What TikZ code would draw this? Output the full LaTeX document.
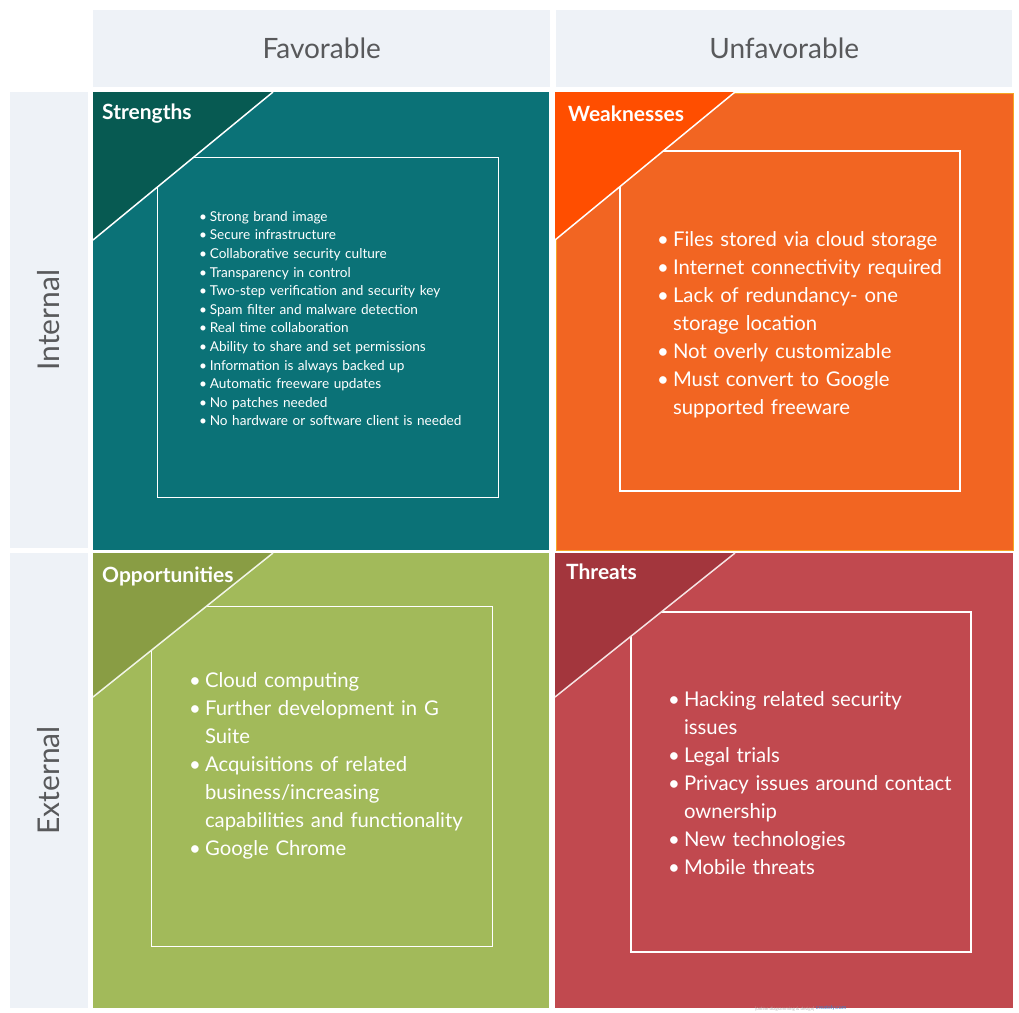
\documentclass[tikz,border=0pt]{standalone}
\usepackage{fontspec}
\setmainfont{Lato}

\definecolor{hdrbg}{HTML}{EEF2F7}
\definecolor{hdrtxt}{HTML}{58595B}
\definecolor{strbg}{HTML}{0B7277}
\definecolor{strtri}{HTML}{075A52}
\definecolor{wkbg}{HTML}{F26522}
\definecolor{wktri}{HTML}{FF4E00}
\definecolor{wkline}{HTML}{F6A623}
\definecolor{oppbg}{HTML}{A2BA5A}
\definecolor{opptri}{HTML}{899D44}
\definecolor{thrbg}{HTML}{C1494F}
\definecolor{thrtri}{HTML}{A3363D}
\definecolor{wmblue}{HTML}{3D7CC9}

\newcommand{\bitem}[1]{\hangindent=0.78em\hangafter=1\noindent\makebox[0.78em][l]{\textbullet}#1\par}

\tikzset{
  hdr/.style={fill=hdrbg, text=hdrtxt, inner sep=0pt, font=\fontsize{28}{28}\selectfont},
  sidehdr/.style={hdr, rotate=90, font=\fontsize{30}{30}\selectfont},
  quad/.style={anchor=north west, inner sep=0pt},
  inbox/.style={draw=white, line width=1pt},
  quadtitle/.style={anchor=west, text=white, inner sep=0pt, font=\bfseries\fontsize{21}{21}\selectfont},
  smalllist/.style={anchor=north west, text=white, inner sep=0pt, align=left, text width=295pt, font=\fontsize{13.6}{18.6}\selectfont},
  biglist/.style={anchor=north west, text=white, inner sep=0pt, align=left, text width=310pt, font=\fontsize{20.3}{28}\selectfont}
}

\begin{document}
\begin{tikzpicture}[x=1pt,y=-1pt]
\useasboundingbox (0,0) rectangle (1019,1012);

\node[hdr, anchor=north west, minimum width=457pt, minimum height=77pt] (fav) at (93,10) {Favorable};
\node[hdr, anchor=north west, minimum width=456pt, minimum height=77pt] (unfav) at (556,10) {Unfavorable};
\node[sidehdr, minimum width=456pt, minimum height=78pt] (int) at (49,320) {Internal};
\node[sidehdr, minimum width=455pt, minimum height=78pt] (ext) at (49,780.5) {External};

\node[quad, fill=strbg, minimum width=456pt, minimum height=458pt] (str) at (93,92) {};
\node[quad, fill=wkbg, draw=wkline, line width=1.2pt, minimum width=457pt, minimum height=457pt] (wk) at (555.5,92.5) {};
\node[quad, fill=oppbg, minimum width=456pt, minimum height=455pt] (opp) at (93,553) {};
\node[quad, fill=thrbg, minimum width=458pt, minimum height=455pt] (thr) at (555,553) {};

% inner boxes
\draw[inbox] (157,157) rectangle (498,497);
\draw[inbox, line width=1.8pt] (620,151) rectangle (960,491);
\draw[inbox] (151,606) rectangle (492,946);
\draw[inbox, line width=1.2pt] (631,612) rectangle (971,952);

% corner triangles
\fill[strtri] (93,92) -- (273,92) -- (93,240) -- cycle;
\draw[white, line width=1.5pt] (273,92) -- (93,240);
\fill[wktri] (555,92) -- (735,92) -- (555,240) -- cycle;
\draw[white, line width=1.5pt] (735,92) -- (555,240);
\fill[opptri] (93,553) -- (273,553) -- (93,697) -- cycle;
\draw[white!85!oppbg, line width=1.5pt] (273,553) -- (93,697);
\fill[thrtri] (555,553) -- (735,553) -- (555,697) -- cycle;
\draw[white!85!thrbg, line width=1.5pt] (735,553) -- (555,697);

\node[quadtitle] (strt) at (102,114) {Strengths};
\node[quadtitle] (wkt) at (568,114) {Weaknesses};
\node[quadtitle] (oppt) at (102,576) {Opportunities};
\node[quadtitle] (thrt) at (566,572) {Threats};

\node[smalllist] (strl) at (199,211) {%
\bitem{Strong brand image}
\bitem{Secure infrastructure}
\bitem{Collaborative security culture}
\bitem{Transparency in control}
\bitem{Two-step verification and security key}
\bitem{Spam filter and malware detection}
\bitem{Real time collaboration}
\bitem{Ability to share and set permissions}
\bitem{Information is always backed up}
\bitem{Automatic freeware updates}
\bitem{No patches needed}
\bitem{No hardware or software client is needed}};

\node[biglist] (wkl) at (657,231) {%
\bitem{Files stored via cloud storage}
\bitem{Internet connectivity required}
\bitem{Lack of redundancy- one\newline storage location}
\bitem{Not overly customizable}
\bitem{Must convert to Google\newline supported freeware}};

\node[biglist] (oppl) at (189,672) {%
\bitem{Cloud computing}
\bitem{Further development in G\newline Suite}
\bitem{Acquisitions of related\newline business/increasing\newline capabilities and functionality}
\bitem{Google Chrome}};

\node[biglist] (thrl) at (668,691) {%
\bitem{Hacking related security\newline issues}
\bitem{Legal trials}
\bitem{Privacy issues around contact\newline ownership}
\bitem{New technologies}
\bitem{Mobile threats}};

\node[anchor=south west, inner sep=0pt, text=gray!60, font=\fontsize{4.5}{4.5}\selectfont] (wm) at (755,1011.5) {[online diagramming \& design]};
\node[anchor=south west, inner sep=1pt, text=wmblue, font=\fontsize{5.5}{5.5}\selectfont] (wmc) at (wm.south east) {creately.com};

\end{tikzpicture}
\end{document}
